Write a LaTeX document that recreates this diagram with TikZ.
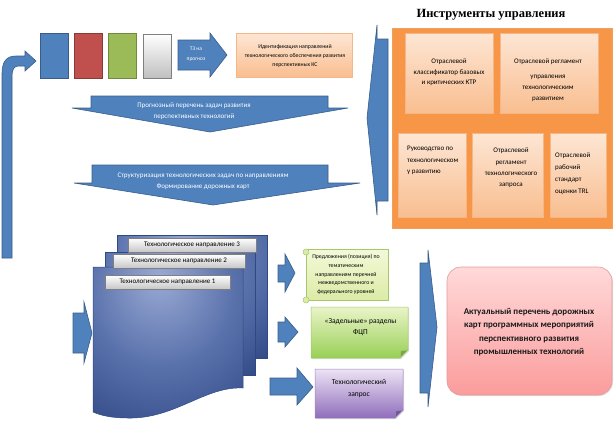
\documentclass[tikz,border=0pt]{standalone}
\usepackage{fontspec}
\setmainfont{Carlito}
\newfontfamily\titlefont{Liberation Serif}
\usetikzlibrary{shadows}
\definecolor{ablue}{HTML}{4F81BD}
\definecolor{ablueedge}{HTML}{385D8A}
\definecolor{sqred}{HTML}{C0504D}
\definecolor{sqrededge}{HTML}{8C3836}
\definecolor{sqgreen}{HTML}{9BBB59}
\definecolor{sqgreenedge}{HTML}{71893F}
\definecolor{greyedge}{HTML}{7F7F7F}
\definecolor{panelorange}{HTML}{F79646}
\definecolor{paneledge}{HTML}{EFA05F}
\definecolor{peachtop}{HTML}{FDE6D4}
\definecolor{peachbot}{HTML}{F9BE90}
\definecolor{peachedge}{HTML}{F5B787}
\definecolor{docl}{HTML}{9AAAD4}
\definecolor{docm}{HTML}{5A72AC}
\definecolor{docd}{HTML}{1C3674}
\definecolor{docedge}{HTML}{2C4A86}
\definecolor{scrolltop}{HTML}{F3F9D9}
\definecolor{scrollbot}{HTML}{DCEBA6}
\definecolor{fcptop}{HTML}{EAF4C8}
\definecolor{fcpbot}{HTML}{98D056}
\definecolor{lgreenedge}{HTML}{A6C76A}
\definecolor{purptop}{HTML}{EDE3F5}
\definecolor{purpbot}{HTML}{8F6EBB}
\definecolor{purpedge}{HTML}{9E86C0}
\definecolor{redtop}{HTML}{FFD9D9}
\definecolor{redbot}{HTML}{FB9C9C}
\definecolor{rededge}{HTML}{E39A9A}
\pgfdeclareradialshading{docshade}{\pgfpoint{-3bp}{22bp}}{color(0bp)=(docl); color(24bp)=(docm); color(58bp)=(docd); color(100bp)=(docd)}
\begin{document}
\begin{tikzpicture}[x=1pt,y=-1pt,
  blockarrow/.style={fill=ablue, draw=ablueedge, line width=0.6pt, line join=miter},
  peachbox/.style={top color=peachtop, bottom color=peachbot, draw=peachedge, line width=0.4pt,
    drop shadow={shadow xshift=1pt, shadow yshift=-1pt, opacity=0.25}},
  txt/.style={inner sep=0pt, align=center, font=\fontsize{7}{11}\selectfont},
  wtxt/.style={txt, text=white},
  labelbox/.style={top color=white, bottom color=black!22, draw=greyedge, line width=0.4pt,
    inner sep=0pt, font=\fontsize{7}{9}\selectfont,
    drop shadow={shadow xshift=1pt, shadow yshift=-1pt, opacity=0.3}},
  square/.style={line width=0.7pt}
]
\useasboundingbox (0,0) rectangle (616,426);

% bent return arrow on the left
\path[blockarrow] (2,258) -- (2,74) .. controls (2,62) and (6,56) .. (16,56) -- (25,56) -- (25,51) -- (36,61)
  -- (25,71) -- (25,66) -- (18,66) .. controls (14,66) and (12,70) .. (12,76) -- (12,258) -- cycle;

% coloured squares
\path[square, fill=ablue, draw=ablueedge] (40,33) rectangle (68,78);
\path[square, fill=sqred, draw=sqrededge] (74,33) rectangle (102,78);
\path[square, fill=sqgreen, draw=sqgreenedge] (108,33) rectangle (136,78);
\path[square, top color=white, bottom color=black!25, draw=greyedge] (143,34) rectangle (171,78);

% arrow TZ
\path[blockarrow] (178,40) -- (210,40) -- (210,33) -- (227,55) -- (210,77) -- (210,70) -- (178,70) -- cycle;
\node[wtxt, font=\fontsize{5.5}{10}\selectfont] (tz) at (196,54) {ТЗ на\\прогноз};

% identification box
\node[peachbox, minimum width=116pt, minimum height=44pt, inner sep=0pt] (ident) at (294,55) {};
\node[txt, font=\fontsize{5.8}{9}\selectfont] (identt) at (295,56) {Идентификация направлений\\технологического обеспечения развития\\перспективных КС};

% down arrow 1
\path[blockarrow] (91,96) -- (328,96) -- (328,108) -- (348,108) -- (210,132) -- (72,108) -- (91,108) -- cycle;
\node[wtxt] (down1) at (194,111) {Прогнозный перечень  задач развития\\перспективных  технологий};

% down arrow 2
\path[blockarrow] (92,165) -- (328,165) -- (328,183) -- (360,183) -- (213,205) -- (74,183) -- (92,183) -- cycle;
\node[wtxt] (down2) at (203,181) {Структуризация  технологических  задач  по  направлениям\\Формирование  дорожных  карт};

% left pointing arrow to the tools
\path[blockarrow] (388,39) -- (377,39) -- (377,25) -- (367,118) -- (377,215) -- (377,201) -- (388,201) -- cycle;

% title
\node[inner sep=0pt, font=\titlefont\fontsize{12.5}{14}\selectfont\bfseries] (title) at (491,15) {Инструменты  управления};

% orange panel
\path[fill=panelorange, draw=paneledge, line width=0.8pt] (392,28) rectangle (612,228);
\path[peachbox] (405,33) rectangle (493,113);
\path[peachbox] (500,33) rectangle (598,113);
\path[peachbox] (398,133) rectangle (466,217);
\path[peachbox] (472,133) rectangle (543,217);
\path[peachbox] (550,133) rectangle (606,217);
\node[txt, font=\fontsize{7}{10.5}\selectfont] (kA) at (449,72.5) {Отраслевой\\классификатор базовых\\и критических  КТР};
\node[txt, font=\fontsize{7}{11}\selectfont] (kB) at (548,80) {Отраслевой  регламент\\[3.5pt]управления\\технологическим\\развитием};
\node[txt, align=left, anchor=north west, font=\fontsize{7}{11.5}\selectfont] (kC) at (407,146) {Руководство по\\технологическом\\у развитию};
\node[txt, anchor=north, font=\fontsize{7}{11.3}\selectfont] (kD) at (511,148) {Отраслевой\\регламент\\технологического\\запроса};
\node[txt, align=left, anchor=north west, font=\fontsize{7}{11.7}\selectfont] (kE) at (555,153) {Отраслевой\\рабочий\\стандарт\\оценки TRL};

% small arrow into documents
\path[blockarrow] (73,313) -- (84,313) -- (84,302) -- (92,333) -- (84,363) -- (84,353) -- (73,353) -- cycle;

% stacked documents
\path[shading=docshade, draw=docedge, line width=0.5pt] (117,235) rectangle (267,358);
\path[shading=docshade, draw=docedge, line width=0.5pt] (105,252) rectangle (255,375);
\path[shading=docshade, draw=docedge, line width=0.5pt] (93,267) -- (243,267) -- (243,388)
  .. controls (205,386) and (175,419) .. (128,418) .. controls (110,418) and (100,415) .. (93,412) -- cycle;
\node[labelbox, minimum width=128pt, minimum height=14pt] (dir3) at (192,245) {Технологическое  направление  3};
\node[labelbox, minimum width=132pt, minimum height=14pt] (dir2) at (179,261) {Технологическое  направление  2};
\node[labelbox, minimum width=125pt, minimum height=14pt] (dir1) at (167.5,282) {Технологическое  направление  1};

% three arrows out of documents
\path[blockarrow] (278,265) -- (285,265) -- (285,254) -- (295,273) -- (285,292) -- (285,282) -- (278,282) -- cycle;
\path[blockarrow] (278,322) -- (285,322) -- (285,317) -- (298,332) -- (285,347) -- (285,342) -- (278,342) -- cycle;
\path[blockarrow] (270,378) -- (297,378) -- (297,368) -- (313,387) -- (297,405) -- (297,395) -- (270,395) -- cycle;

% scroll
\path[top color=scrolltop, bottom color=scrollbot, draw=lgreenedge, line width=0.5pt,
  drop shadow={shadow xshift=1pt, shadow yshift=-1pt, opacity=0.25}]
  (306,249) -- (388,249) -- (388,300) -- (306,300) -- cycle;
\path[fill=scrollbot, draw=lgreenedge, line width=0.5pt] (306,252) circle (3pt);
\path[fill=scrollbot, draw=lgreenedge, line width=0.5pt] (306,300) circle (3pt);
\node[txt, font=\fontsize{5.8}{8.6}\selectfont] (scrollt) at (346,274.5) {Предложения (позиция) по\\тематическим\\направлениям перечней\\межведомственного и\\федерального уровней};

% FCP note
\path[top color=fcptop, bottom color=fcpbot, draw=lgreenedge, line width=0.5pt,
  drop shadow={shadow xshift=1pt, shadow yshift=-1pt, opacity=0.25}]
  (311,307) -- (408,307) -- (408,350) -- (400,358) -- (311,358) -- cycle;
\path[fill=fcpbot!80!black, draw=lgreenedge, line width=0.5pt] (408,350) -- (401,351) -- (400,358) -- cycle;
\node[txt, font=\fontsize{7.5}{11}\selectfont] (fcp) at (360.5,327.5) {«Задельные»  разделы\\ФЦП};

% purple note
\path[top color=purptop, bottom color=purpbot, draw=purpedge, line width=0.5pt,
  drop shadow={shadow xshift=1pt, shadow yshift=-1pt, opacity=0.25}]
  (315,369) -- (403,369) -- (403,410) -- (395,418) -- (315,418) -- cycle;
\path[fill=purpbot!80!black, draw=purpedge, line width=0.5pt] (403,410) -- (396,411) -- (395,418) -- cycle;
\node[txt, font=\fontsize{7.5}{12}\selectfont] (req) at (359,389) {Технологический\\запрос};

% big right arrow
\path[blockarrow] (420,263) -- (428,263) -- (428,250) -- (437,327) -- (428,407) -- (428,393) -- (420,393) -- cycle;

% result box
\path[top color=redtop, bottom color=redbot, draw=rededge, line width=0.6pt, rounded corners=14pt,
  drop shadow={shadow xshift=1pt, shadow yshift=-1pt, opacity=0.25}] (447,267) rectangle (612,395);
\node[txt, font=\fontsize{9}{13.3}\selectfont\bfseries, text=black!90] (result) at (529,332) {Актуальный перечень дорожных\\карт    программных мероприятий\\перспективного развития\\промышленных технологий};
\end{tikzpicture}
\end{document}
